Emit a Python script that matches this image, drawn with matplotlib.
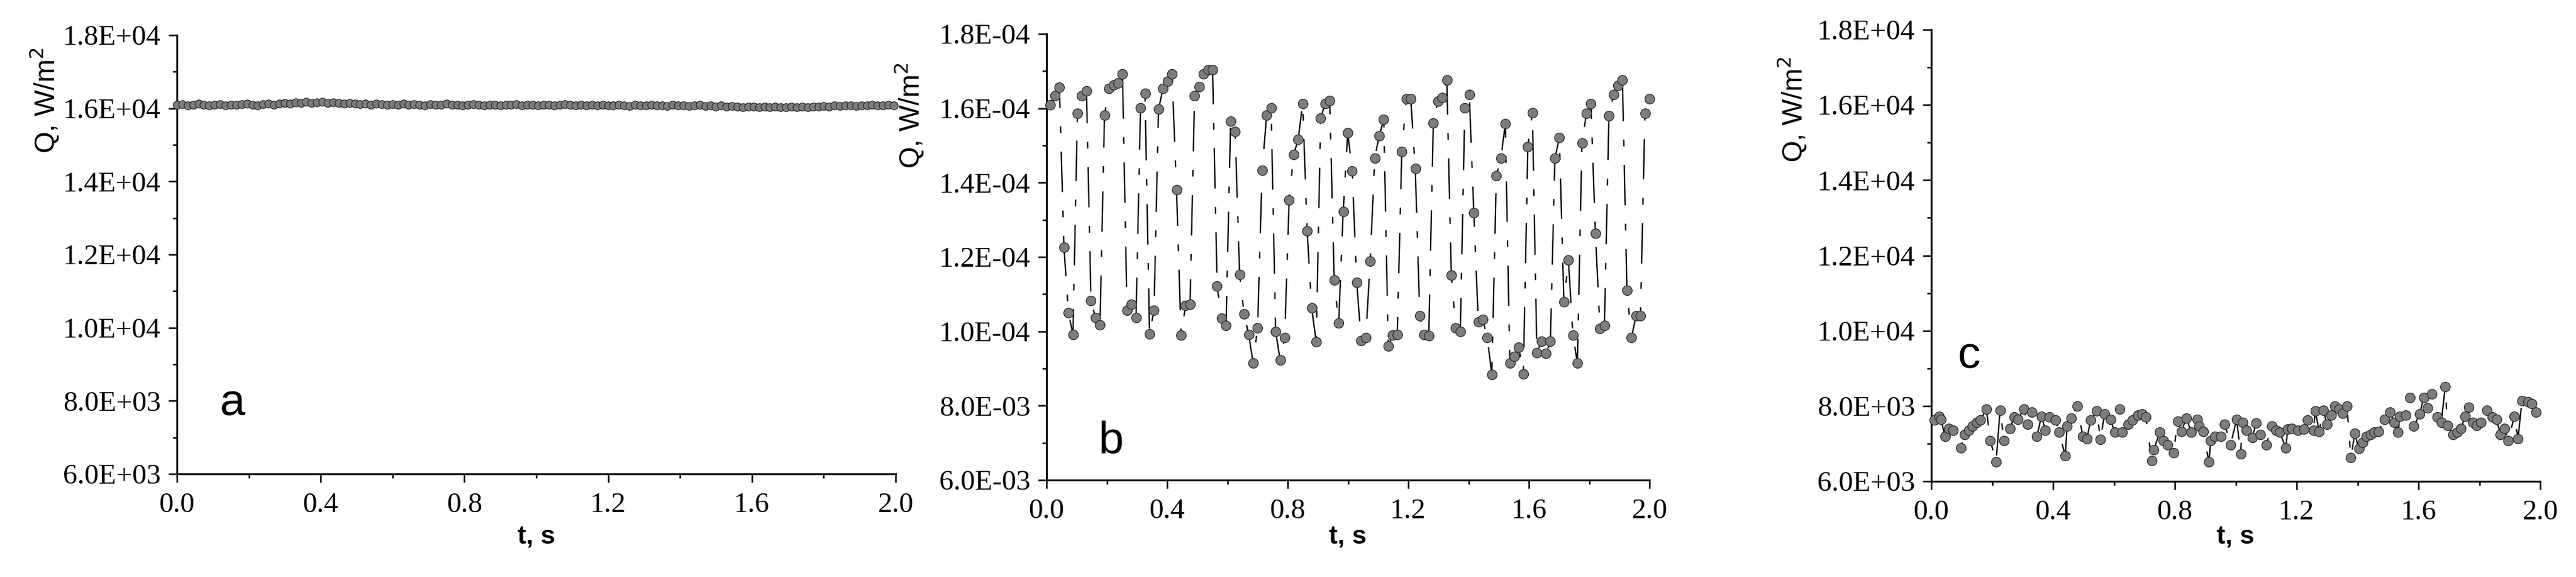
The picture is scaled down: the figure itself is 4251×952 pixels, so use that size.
import numpy as np
import matplotlib
matplotlib.use("Agg")
import matplotlib.pyplot as plt
from matplotlib.ticker import MultipleLocator, FixedLocator

plt.rcParams['lines.scale_dashes'] = False

# ---------------- data ----------------
# panel a: nearly constant heat flux, dt = 0.015 s
a_dt = 0.015
a_vals = [
    16090, 16110, 16080, 16100, 16120, 16090, 16070, 16100, 16110, 16080,
    16100, 16090, 16110, 16120, 16100, 16080, 16110, 16130, 16100, 16120,
    16140, 16130, 16160, 16150, 16170, 16140, 16160, 16180, 16150, 16160,
    16140, 16130, 16150, 16120, 16110, 16130, 16100, 16120, 16110, 16090,
    16110, 16100, 16120, 16090, 16110, 16100, 16080, 16110, 16090, 16100,
    16120, 16090, 16100, 16080, 16100, 16110, 16090, 16080, 16100, 16090,
    16070, 16100, 16090, 16110, 16080, 16100, 16090, 16070, 16090, 16100,
    16080, 16090, 16110, 16090, 16080, 16100, 16070, 16090, 16080, 16100,
    16080, 16070, 16090, 16080, 16060, 16090, 16070, 16080, 16090, 16070,
    16080, 16060, 16090, 16070, 16080, 16060, 16070, 16090, 16060, 16070,
    16050, 16070, 16040, 16060, 16050, 16030, 16050, 16040, 16020, 16040,
    16030, 16050, 16020, 16030, 16040, 16020, 16040, 16030, 16050, 16040,
    16060, 16050, 16070, 16060, 16080, 16070, 16060, 16080, 16070, 16090,
    16080, 16070, 16090, 16080,
]

# panel b: strongly oscillating heat flux
b_t0 = 0.013
b_dt = 0.01494
b_vals = [
    16093, 16330, 16566, 12253, 10494, 9918, 15872, 16330, 16464, 10825,
    10376, 10179, 15817, 16527, 16629, 16685, 16921, 10573, 10731, 10376,
    16014, 16409, 9926, 10573, 15975, 16527, 16724, 16921, 13806, 9903,
    10691, 10731, 16330, 16582, 16921, 17039, 17039, 11220, 10352, 10155,
    15659, 15383, 11535, 10470, 9918, 9153, 10100, 14335, 15817, 16014,
    9997, 9232, 9824, 13530, 14752, 15163, 16133, 12702, 10628, 9721,
    15738, 16133, 16211, 11377, 10218, 13215, 15344, 14319, 11322, 9745,
    9824, 11890, 14658, 15265, 15699, 9603, 9903, 9918, 14831, 16251,
    16251, 14374, 10415, 9918, 9879, 15604, 16196, 16290, 16763, 11504,
    10100, 9997, 16014, 16369, 13191, 10258, 10313, 9824, 8838, 14185,
    14658, 15581, 9153, 9327, 9564, 8854, 14965, 15880, 9429, 9729,
    9406, 9729, 14650, 15210, 10786, 11914, 9903, 9153, 15068, 15857,
    16133, 12639, 10076, 10155, 15793, 16369, 16621, 16763, 11101, 9824,
    10415, 10415, 15872, 16251,
]

# panel c: moderate fluctuations around 7.5E+03
c_t = [
    0.010, 0.026, 0.032, 0.045, 0.058, 0.071, 0.097, 0.110, 0.123, 0.136,
    0.149, 0.162, 0.181, 0.194, 0.213, 0.226, 0.239, 0.259, 0.272, 0.285,
    0.304, 0.317, 0.330, 0.347, 0.362, 0.375, 0.388, 0.408, 0.420, 0.440,
    0.446, 0.459, 0.479, 0.498, 0.511, 0.524, 0.543, 0.556, 0.569, 0.589,
    0.602, 0.618, 0.627, 0.647, 0.660, 0.679, 0.692, 0.705, 0.724, 0.731,
    0.750, 0.763, 0.776, 0.796, 0.809, 0.821, 0.838, 0.854, 0.873, 0.880,
    0.893, 0.912, 0.918, 0.931, 0.951, 0.964, 0.983, 1.003, 1.016, 1.022,
    1.035, 1.054, 1.067, 1.080, 1.100, 1.119, 1.132, 1.145, 1.164, 1.171,
    1.184, 1.203, 1.223, 1.235, 1.255, 1.261, 1.274, 1.287, 1.300, 1.313,
    1.326, 1.339, 1.352, 1.365, 1.378, 1.391, 1.404, 1.416, 1.429, 1.442,
    1.455, 1.468, 1.488, 1.507, 1.520, 1.533, 1.539, 1.559, 1.572, 1.585,
    1.604, 1.617, 1.630, 1.643, 1.662, 1.675, 1.688, 1.695, 1.714, 1.727,
    1.740, 1.753, 1.766, 1.779, 1.792, 1.805, 1.824, 1.843, 1.856, 1.869,
    1.882, 1.895, 1.915, 1.927, 1.940, 1.960, 1.973, 1.986,
]
c_vals = [
    7620, 7730, 7649, 7189, 7405, 7351, 6892, 7243, 7351, 7459,
    7568, 7622, 7919, 7081, 6514, 7892, 7081, 7405, 7703, 7649,
    7919, 7514, 7838, 7189, 7730, 7351, 7703, 7622, 7297, 6676,
    7459, 7676, 8000, 7189, 7135, 7622, 7865, 7108, 7784, 7649,
    7297, 7919, 7297, 7514, 7622, 7757, 7784, 7703, 6541, 6838,
    7297, 7081, 6973, 6757, 7595, 7324, 7676, 7297, 7649, 7459,
    7324, 6514, 7081, 7189, 7189, 7514, 6973, 7649, 6730, 7568,
    7351, 7162, 7541, 7243, 6973, 7459, 7351, 7297, 6892, 7378,
    7405, 7351, 7378, 7622, 7351, 7865, 7324, 7892, 7514, 7757,
    8000, 7919, 7811, 8000, 6622, 7270, 6865, 7027, 7189, 7243,
    7297, 7324, 7649, 7838, 7568, 7297, 7730, 7757, 8216, 7459,
    7784, 8216, 7946, 8324, 7703, 7568, 8514, 7486, 7243, 7297,
    7405, 7730, 7973, 7568, 7486, 7568, 7892, 7703, 7649, 7243,
    7405, 7081, 7730, 7135, 8135, 8108, 8054, 7838,
]

y_ticks = [6000, 8000, 10000, 12000, 14000, 16000, 18000]
labels_pos = ["6.0E+03", "8.0E+03", "1.0E+04", "1.2E+04", "1.4E+04", "1.6E+04", "1.8E+04"]
labels_b = ["6.0E-03", "8.0E-03", "1.0E-04", "1.2E-04", "1.4E-04", "1.6E-04", "1.8E-04"]
x_ticks = [0.0, 0.4, 0.8, 1.2, 1.6, 2.0]
x_labels = ["0.0", "0.4", "0.8", "1.2", "1.6", "2.0"]

a_t = a_dt * np.arange(len(a_vals))
b_t = b_t0 + b_dt * np.arange(len(b_vals))

# ---------------- figure ----------------
W, H = 4251, 952
fig = plt.figure(figsize=(W / 100, H / 100), dpi=100)
fig.patch.set_facecolor('white')

def add_ax(l, r, t, b):
    return fig.add_axes([l / W, 1 - b / H, (r - l) / W, (b - t) / H])

panels = [
    dict(box=(292, 1478, 58, 782), t=a_t, v=a_vals, ylabels=labels_pos, letter='a',
         lpos=(384, 685), ms=9.5, ylab=(73, 78)),
    dict(box=(1727, 2722, 56, 792), t=b_t, v=b_vals, ylabels=labels_b, letter='b',
         lpos=(1833, 748), ms=11.5, ylab=(1500, 103)),
    dict(box=(3187, 4192, 49, 794), t=c_t, v=c_vals, ylabels=labels_pos, letter='c',
         lpos=(3250, 607), ms=11.5, ylab=(2957, 93)),
]

serif = 'Liberation Serif'
sans = 'Liberation Sans'

for p in panels:
    l, r, t, b = p['box']
    ax = add_ax(l, r, t, b)
    ax.set_facecolor('white')
    ax.plot(p['t'], p['v'], linestyle=(0, (48, 22, 8, 22)), color='black', lw=1.6,
            marker='o', ms=p['ms'], mfc='#7d7d7d', mec='#2a2a2a', mew=0.9,
            clip_on=False, zorder=3)
    ax.set_xlim(0, 2.0)
    ax.set_ylim(6000, 18000)
    for s in ['top', 'right']:
        ax.spines[s].set_visible(False)
    for s in ['left', 'bottom']:
        ax.spines[s].set_linewidth(2.2)
    ax.yaxis.set_major_locator(FixedLocator(y_ticks))
    ax.set_yticklabels(p['ylabels'])
    ax.yaxis.set_minor_locator(MultipleLocator(1000))
    ax.xaxis.set_major_locator(FixedLocator(x_ticks))
    ax.set_xticklabels(x_labels)
    ax.xaxis.set_minor_locator(MultipleLocator(0.2))
    ax.tick_params(which='major', direction='out', length=10, width=1.8,
                   labelsize=34, pad=9)
    ax.tick_params(which='minor', direction='out', length=5, width=1.8)
    ax.tick_params(axis='x', which='major', pad=12)
    for lab in ax.get_xticklabels() + ax.get_yticklabels():
        lab.set_fontfamily(serif)

    # panel letter
    lx, ly = p['lpos']
    ax.text((lx - l) / (r - l), (b - ly) / (b - t), p['letter'], transform=ax.transAxes,
            ha='center', va='baseline', fontsize=54, family=sans)
    # y label at the top of the axis
    qx, qy = p['ylab']
    ax.text((qx - l) / (r - l), (b - qy) / (b - t), 'Q, W/m$^{2}$', transform=ax.transAxes,
            rotation=90, ha='center', va='top', fontsize=33, family=sans)
    # x label
    ax.text(0.5, (b - 886) / (b - t), 't, s', transform=ax.transAxes,
            ha='center', va='center', fontsize=31, family=sans, fontweight='bold')

fig.savefig('out.png', dpi=100, facecolor='white')
